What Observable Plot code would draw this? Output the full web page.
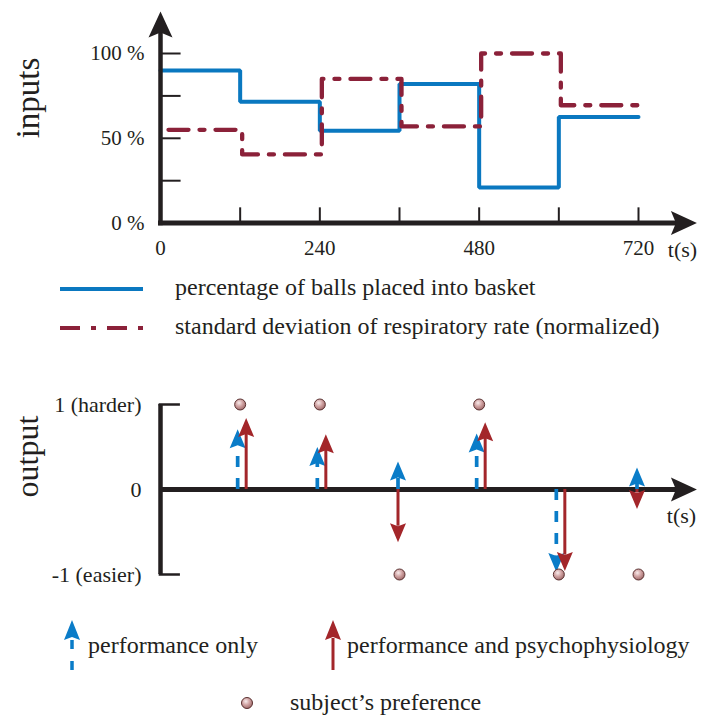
<!DOCTYPE html>
<html><head><meta charset="utf-8">
<script src="https://cdn.jsdelivr.net/npm/d3@7"></script>
<script src="https://cdn.jsdelivr.net/npm/@observablehq/plot@0.6"></script>
<style>
body{margin:0;background:#fff;}
#root{position:relative;width:716px;height:715px;font-family:"Liberation Serif","Times New Roman",serif;color:#231f20;overflow:hidden;}
.abs{position:absolute;}
.leg{position:absolute;font-size:24px;line-height:24px;white-space:nowrap;}
svg{overflow:visible;}
</style></head><body>
<svg width="0" height="0" style="position:absolute"><defs>
<radialGradient id="ball" cx="0.4" cy="0.35" r="0.7">
<stop offset="0" stop-color="#f8ecec"/><stop offset="0.45" stop-color="#d3a6a6"/><stop offset="1" stop-color="#9a6464"/>
</radialGradient></defs></svg>
<div id="root">
  <div id="top" class="abs" style="left:0;top:0"></div>
  <svg class="abs" style="left:0;top:280px" width="160" height="60">
    <line x1="60" x2="143" y1="9" y2="9" stroke="#0a78c0" stroke-width="4"/>
    <line x1="60" x2="143" y1="48" y2="48" stroke="#8b2139" stroke-width="4" stroke-dasharray="20,11,5,11"/>
  </svg>
  <div class="leg" style="left:175px;top:275px">percentage of balls placed into basket</div>
  <div class="leg" style="left:175px;top:314px">standard deviation of respiratory rate (normalized)</div>
  <div id="bottom" class="abs" style="left:0;top:350px"></div>
  <svg class="abs" style="left:0;top:610px" width="716" height="105">
    <line x1="72" x2="72" y1="30" y2="60" stroke="#0a7cc8" stroke-width="3.5" stroke-dasharray="9,12"/>
    <path d="M72,10 L80,30 L72,27 L64,30 Z" fill="#0a7cc8"/>
    <line x1="333" x2="333" y1="28" y2="60" stroke="#a3262a" stroke-width="3"/>
    <path d="M333,10 L341,30 L333,27 L325,30 Z" fill="#a3262a"/>
    <circle cx="247" cy="93" r="5.5" fill="url(#ball)" stroke="#5a3030" stroke-width="1"/>
  </svg>
  <div class="leg" style="left:88px;top:633px">performance only</div>
  <div class="leg" style="left:347px;top:633px">performance and psychophysiology</div>
  <div class="leg" style="left:290px;top:690px">subject’s preference</div>
</div>
<script>
// ---------- data ----------
const stepTimes = [0, 120, 240, 360, 480, 600];
const endTime = 720;
const ballsPct = [90, 71.5, 54.5, 82, 21, 62.5];        // % of balls placed into basket
const respSdPct = [55, 40.5, 85, 57, 100, 69.5];         // std of respiratory rate (normalized)
const inputTicks = [0, 50, 100];
const timeTicks = [0, 240, 480, 720];
const minorTimeTicks = [120, 240, 360, 480, 600, 720];

const decisionTimes = [120, 240, 360, 480, 600, 720];
const perfOnly = [0.71, 0.50, 0.33, 0.66, -0.97, 0.26];
const perfPsych = [0.84, 0.65, -0.62, 0.79, -0.96, -0.23];
const preference = [1, 1, -1, 1, -1, -1];
const outputTicks = [-1, 0, 1];
const outputLabels = {"-1": "-1 (easier)", "0": "0", "1": "1 (harder)"};

// ---------- styling ----------
const BLUE = "#0a78c0", MAROON = "#8b2139", ABLUE = "#0a7cc8", ARED = "#a3262a", INK = "#231f20";
const tArrowTip = 808;   // x-axis arrow extent (time units)
const yArrowTip = 124.8; // y-axis arrow extent (percent units)

const axisHead = {draw(c){c.moveTo(0,0);c.lineTo(12,26);c.lineTo(0,21);c.lineTo(-12,26);c.closePath();}};
const arrowHead = {draw(c){c.moveTo(0,0);c.lineTo(8,19);c.lineTo(0,16);c.lineTo(-8,19);c.closePath();}};

const style = {fontFamily: '"Liberation Serif","Times New Roman",serif', color: INK, background: "transparent", overflow: "visible"};

function steps(vals) {
  const rows = stepTimes.map((t, i) => ({t, v: vals[i]}));
  rows.push({t: endTime, v: vals[vals.length - 1]});
  return rows;
}

const topPlot = Plot.plot({
  width: 716, height: 260, marginLeft: 160, marginRight: 78, marginTop: 53, marginBottom: 37.4,
  x: {domain: [0, 720], label: null}, y: {domain: [0, 100], label: null},
  style,
  marks: [
    Plot.ruleY([25, 50, 75, 100], {x1: 0, x2: 31, stroke: INK, strokeWidth: 2}),
    Plot.ruleX(minorTimeTicks, {y1: 0, y2: 9, stroke: INK, strokeWidth: 2}),
    Plot.line(steps(ballsPct), {x: "t", y: "v", curve: "step-after", stroke: BLUE, strokeWidth: 4, strokeLinejoin: "miter"}),
    Plot.line(steps(respSdPct), {x: "t", y: "v", curve: "step-after", stroke: MAROON, strokeWidth: 4.3, strokeDasharray: "20,11,5,11", strokeDashoffset: -6, dx: 2}),
    Plot.ruleX([0], {y1: -1.5, y2: yArrowTip - 12, stroke: INK, strokeWidth: 4.5}),
    Plot.ruleY([0], {x1: -3, x2: tArrowTip - 20, stroke: INK, strokeWidth: 5}),
    Plot.dot([0], {x: 0, y: yArrowTip, symbol: axisHead, fill: INK, stroke: null}),
    Plot.dot([0], {x: tArrowTip, y: 0, symbol: axisHead, rotate: 90, fill: INK, stroke: null}),
    Plot.axisY({ticks: inputTicks, tickFormat: d => `${d} %`, tickSize: 0, tickPadding: 16, fontSize: 21, label: null}),
    Plot.axisX({ticks: timeTicks, tickSize: 0, tickPadding: 17, fontSize: 21, label: null}),
    Plot.text(["t(s)"], {x: 720, y: 0, dx: 44, dy: 27, fontSize: 22}),
    Plot.text(["inputs"], {frameAnchor: "left", rotate: -90, dx: -132, fontSize: 33})
  ]
});
document.getElementById("top").append(topPlot);

const rows = decisionTimes.map((t, i) => ({t, a: perfOnly[i], b: perfPsych[i], p: preference[i]}));
const headUnits = 16 / 85; // arrowhead length in output units
const shaft = v => Math.sign(v) * Math.max(0, Math.abs(v) - headUnits);
const same = d => Math.sign(d.a) === Math.sign(d.b);

const bottomPlot = Plot.plot({
  width: 716, height: 250, marginLeft: 160, marginRight: 78, marginTop: 54, marginBottom: 26,
  x: {domain: [0, 720], label: null, axis: null}, y: {domain: [-1, 1], label: null},
  style,
  marks: [
    Plot.ruleX([0], {y1: -1, y2: 1, stroke: INK, strokeWidth: 4.5}),
    Plot.ruleY([-1, 1], {x1: -2, x2: 30, stroke: INK, strokeWidth: 2.5}),
    Plot.ruleY([0], {x1: 0, x2: tArrowTip - 20, stroke: INK, strokeWidth: 5}),
    Plot.dot([0], {x: tArrowTip, y: 0, symbol: axisHead, rotate: 90, fill: INK, stroke: null}),
    Plot.axisY({ticks: outputTicks, tickFormat: d => outputLabels[d], tickSize: 0, tickPadding: 19, fontSize: 22, label: null}),
    Plot.text(["t(s)"], {x: 720, y: 0, dx: 43, dy: 26, fontSize: 22}),
    Plot.text(["output"], {frameAnchor: "left", rotate: -90, dx: -133, dy: 8, fontSize: 32}),
    // performance only (blue dashed)
    Plot.ruleX(rows.filter(same), {x: "t", y1: 0, y2: d => shaft(d.a), stroke: ABLUE, strokeWidth: 3.7, strokeDasharray: "11,11", dx: -2.5}),
    Plot.dot(rows.filter(same), {x: "t", y: "a", symbol: arrowHead, rotate: d => d.a >= 0 ? 0 : 180, fill: ABLUE, stroke: null, dx: -2.5}),
    Plot.ruleX(rows.filter(d => !same(d)), {x: "t", y1: 0, y2: d => shaft(d.a), stroke: ABLUE, strokeWidth: 3.7, strokeDasharray: "11,11", dx: -1.5}),
    Plot.dot(rows.filter(d => !same(d)), {x: "t", y: "a", symbol: arrowHead, rotate: d => d.a >= 0 ? 0 : 180, fill: ABLUE, stroke: null, dx: -1.5}),
    // performance and psychophysiology (red solid)
    Plot.ruleX(rows.filter(same), {x: "t", y1: 0, y2: d => shaft(d.b), stroke: ARED, strokeWidth: 3, dx: 6}),
    Plot.dot(rows.filter(same), {x: "t", y: "b", symbol: arrowHead, rotate: d => d.b >= 0 ? 0 : 180, fill: ARED, stroke: null, dx: 6}),
    Plot.ruleX(rows.filter(d => !same(d)), {x: "t", y1: 0, y2: d => shaft(d.b), stroke: ARED, strokeWidth: 3, dx: -1.5}),
    Plot.dot(rows.filter(d => !same(d)), {x: "t", y: "b", symbol: arrowHead, rotate: d => d.b >= 0 ? 0 : 180, fill: ARED, stroke: null, dx: -1.5}),
    // subject's preference
    Plot.dot(rows, {x: "t", y: "p", r: 5.5, fill: "url(#ball)", stroke: "#5a3030", strokeWidth: 1})
  ]
});
document.getElementById("bottom").append(bottomPlot);
</script>
</body></html>
